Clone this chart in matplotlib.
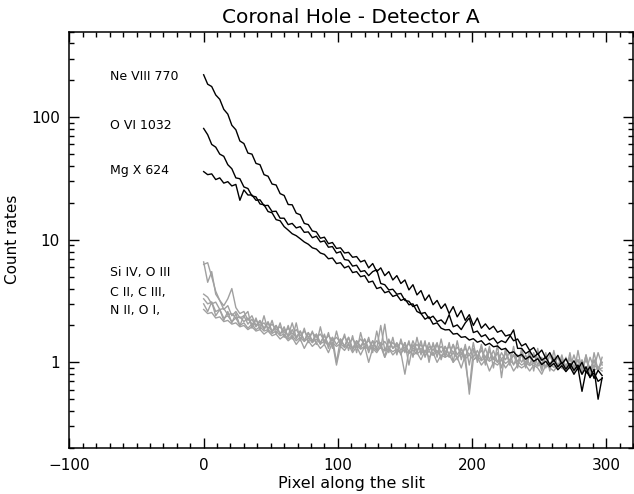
import numpy as np
import matplotlib
matplotlib.use("Agg")
import matplotlib.pyplot as plt
from matplotlib.ticker import MultipleLocator, LogLocator, NullFormatter, FixedLocator, FixedFormatter

# pixel positions along the slit (every 3rd pixel)
pix = np.arange(0, 300, 3)

# hot lines (black)
ne8 = [222, 186, 178, 152, 140, 116, 106, 86, 79, 64,
       61, 51, 50, 42, 41, 34, 33, 28.5, 28, 23.8,
       23, 19.4, 19.3, 16.5, 16, 13.6, 13.3, 11.8, 11.6, 10.3,
       10.5, 9.3, 9.5, 8.5, 8.6, 7.8, 7.9, 7.2, 7.3, 6.6,
       6.8, 5.9, 6.4, 5.5, 5.9, 5.1, 5.5, 4.7, 5.1, 4.4,
       4.7, 3.9, 4.3, 3.55, 3.85, 3.2, 3.55, 2.95, 3.2, 2.75,
       3.0, 2.5, 2.85, 2.35, 2.65, 2.2, 2.45, 2.0, 2.3, 1.9,
       2.06, 1.86, 1.97, 1.76, 1.82, 1.64, 1.68, 1.5, 1.55, 1.36,
       1.42, 1.25, 1.32, 1.16, 1.26, 1.08, 1.2, 1.02, 1.14, 0.97,
       1.07, 0.92, 1.03, 0.88, 1.0, 0.82, 0.92, 0.74, 0.86, 0.78]
o6 = [81, 72, 60, 57, 50, 48, 41, 38, 32, 31.5,
      27, 26.2, 22.8, 22.4, 19.6, 19.3, 17, 16.6, 14.6, 14.3,
      12.8, 12.0, 11.2, 10.8, 10.2, 9.6, 9.2, 8.6, 8.4, 7.8,
      7.6, 7.0, 7.1, 6.4, 6.5, 5.9, 6.1, 5.4, 5.5, 5.0,
      5.1, 4.5, 4.6, 4.0, 4.1, 3.7, 3.8, 3.45, 3.55, 3.2,
      3.3, 2.95, 3.0, 2.6, 2.5, 2.25, 2.35, 2.05, 2.1, 1.9,
      1.84, 1.85, 1.7, 1.72, 1.6, 1.62, 1.52, 1.56, 1.46, 1.5,
      1.38, 1.43, 1.34, 1.36, 1.27, 1.3, 1.19, 1.22, 1.12, 1.16,
      1.06, 1.12, 1.02, 1.07, 0.96, 1.02, 0.92, 0.98, 0.87, 0.94,
      0.84, 0.92, 0.8, 0.9, 0.58, 0.85, 0.76, 0.82, 0.7, 0.74]
mg10 = [36, 34, 34.5, 31, 32, 29, 29.8, 27.5, 28.3, 21,
        25.5, 23.2, 23.2, 21, 21.2, 19, 19.1, 17, 17.1, 15,
        15, 13.3, 13.6, 12.5, 12.8, 11.5, 11.6, 10.4, 10.7, 9.6,
        9.8, 8.7, 8.8, 7.8, 8.0, 6.9, 6.8, 6.1, 6.2, 5.5,
        5.6, 5.1, 5.5, 5.7, 4.4, 4.3, 3.9, 3.95, 3.6, 3.65,
        3.2, 3.15, 2.85, 2.95, 2.5, 2.55, 2.28, 2.38, 2.15, 2.22,
        2.05, 2.45, 1.95, 2.02, 1.85, 2.1, 2.3, 1.75, 1.8, 1.62,
        1.68, 1.52, 1.58, 1.43, 1.5, 1.45, 1.62, 1.84, 1.3, 1.3,
        1.18, 1.24, 1.1, 1.18, 1.04, 1.1, 0.96, 1.05, 0.92, 1.0,
        0.88, 0.98, 0.86, 0.95, 0.8, 0.92, 0.75, 0.88, 0.5, 0.75]

# cool lines (grey)
cool1 = [6.6, 4.5, 5.5, 3.6, 3.2, 2.9, 3.3, 4.0, 2.8, 2.5,
         2.6, 2.2, 2.4, 2.0, 2.2, 1.9, 2.15, 1.8, 2.0, 1.7,
         1.95, 1.6, 1.85, 1.55, 1.8, 1.5, 1.75, 1.45, 1.7, 1.4,
         1.7, 1.3, 1.6, 1.0, 1.55, 1.35, 1.6, 1.25, 1.5, 1.3,
         1.55, 1.2, 1.5, 1.25, 1.45, 1.1, 1.55, 1.3, 1.4, 1.15,
         1.45, 0.95, 1.4, 1.2, 1.5, 1.1, 1.35, 1.25, 1.45, 1.05,
         1.35, 1.15, 1.4, 1.05, 1.3, 1.0, 0.6, 1.25, 1.1, 1.35,
         0.95, 1.25, 1.05, 1.2, 0.9, 1.25, 1.0, 1.15, 0.95, 1.2,
         0.9, 1.15, 1.0, 1.1, 0.85, 1.15, 0.95, 1.1, 0.9, 1.05,
         0.85, 1.1, 0.9, 1.05, 0.8, 1.15, 0.85, 1.05, 0.9, 1.0]
cool2 = [6.3, 6.5, 5.0, 3.8, 3.2, 2.7, 2.9, 2.4, 2.6, 2.3,
         2.4, 2.05, 2.25, 1.95, 2.15, 1.85, 2.1, 1.75, 2.0, 1.7,
         1.85, 1.65, 2.1, 1.6, 1.8, 1.5, 1.75, 1.5, 1.7, 1.45,
         1.65, 1.4, 1.6, 1.4, 1.55, 1.35, 1.6, 1.3, 1.5, 1.35,
         1.55, 1.3, 1.5, 1.3, 2.0, 1.25, 1.5, 1.3, 1.45, 1.25,
         1.45, 1.2, 1.5, 1.25, 1.4, 1.2, 1.45, 1.15, 1.4, 1.2,
         1.35, 1.15, 1.4, 1.15, 1.3, 1.1, 1.35, 1.1, 1.25, 1.05,
         1.3, 1.05, 1.25, 1.0, 1.2, 1.05, 1.2, 0.95, 1.15, 1.0,
         1.15, 0.95, 1.2, 0.95, 1.1, 0.9, 1.15, 0.95, 1.1, 0.9,
         1.1, 0.9, 1.15, 0.9, 1.05, 0.85, 1.1, 0.9, 1.2, 0.95]
cool3 = [3.6, 3.4, 3.0, 3.1, 2.7, 2.75, 2.45, 2.5, 2.3, 2.35,
         2.15, 2.3, 2.05, 2.2, 2.0, 2.1, 1.9, 2.05, 1.85, 1.95,
         1.75, 1.9, 1.7, 1.85, 1.65, 1.8, 1.6, 1.75, 1.6, 1.7,
         1.5, 1.65, 1.5, 1.6, 1.45, 1.62, 1.42, 1.55, 1.4, 1.55,
         1.4, 1.5, 1.35, 1.5, 1.35, 1.48, 1.32, 1.45, 1.33, 1.45,
         1.3, 1.42, 1.28, 1.4, 1.27, 1.4, 1.25, 1.38, 1.22, 1.35,
         1.22, 1.35, 1.2, 1.33, 1.18, 1.3, 1.15, 1.3, 1.12, 1.25,
         1.1, 1.25, 1.08, 1.2, 1.06, 1.18, 1.04, 1.15, 1.02, 1.14,
         1.0, 1.12, 0.99, 1.1, 0.97, 1.1, 0.96, 1.08, 0.95, 1.07,
         0.94, 1.06, 0.92, 1.05, 0.91, 1.04, 0.9, 1.02, 0.88, 1.0]
cool4 = [3.3, 3.0, 3.1, 2.6, 2.7, 2.3, 2.4, 2.15, 2.3, 2.0,
         2.1, 1.9, 2.05, 1.85, 1.95, 1.8, 1.85, 1.72, 1.8, 1.65,
         1.7, 1.55, 1.65, 1.5, 1.6, 1.48, 1.58, 1.45, 1.55, 1.42,
         1.48, 1.38, 1.45, 1.35, 1.42, 1.32, 1.4, 1.3, 1.38, 1.28,
         1.35, 1.27, 1.33, 1.25, 1.32, 1.24, 1.3, 1.22, 1.29, 1.2,
         1.27, 1.18, 1.26, 1.17, 1.25, 1.15, 1.23, 1.14, 1.22, 1.12,
         1.2, 1.1, 1.19, 1.09, 1.17, 1.07, 1.15, 1.05, 1.13, 1.03,
         1.1, 1.02, 1.08, 1.0, 1.06, 0.98, 1.04, 0.97, 1.02, 0.95,
         1.0, 0.94, 0.99, 0.93, 0.98, 0.92, 0.97, 0.91, 0.96, 0.9,
         0.94, 0.89, 0.93, 0.88, 0.92, 0.87, 0.91, 0.86, 0.9, 0.85]
cool5 = [3.0, 2.6, 3.1, 2.4, 2.7, 2.2, 2.6, 2.1, 2.5, 2.0,
         2.4, 2.6, 1.9, 2.3, 1.85, 2.4, 1.8, 2.2, 1.7, 2.1,
         1.6, 2.0, 1.55, 2.1, 1.5, 1.9, 1.45, 1.8, 1.4, 1.95,
         1.4, 1.75, 1.3, 1.8, 1.35, 1.7, 1.25, 1.65, 1.2, 1.75,
         1.3, 1.6, 1.2, 1.8, 1.3, 2.05, 1.2, 1.6, 1.15, 1.55,
         1.2, 1.5, 1.1, 1.6, 1.15, 1.5, 1.0, 1.45, 1.1, 1.55,
         1.1, 1.45, 1.0, 1.5, 1.05, 1.4, 0.95, 1.45, 1.0, 1.4,
         1.0, 1.35, 0.9, 1.4, 0.75, 1.3, 0.95, 1.35, 0.9, 1.3,
         0.95, 1.25, 0.85, 1.3, 0.9, 1.2, 0.85, 1.25, 0.9, 1.15,
         0.85, 1.2, 0.8, 1.25, 0.85, 1.15, 0.75, 1.2, 0.85, 1.1]
cool6 = [2.7, 2.5, 2.55, 2.3, 2.35, 2.15, 2.2, 2.05, 2.1, 1.95,
         2.0, 1.85, 1.95, 1.8, 1.85, 1.7, 1.8, 1.65, 1.7, 1.55,
         1.65, 1.5, 1.6, 1.4, 1.55, 1.3, 1.5, 1.35, 1.45, 1.3,
         1.4, 1.2, 1.45, 0.95, 1.35, 1.25, 1.4, 1.2, 1.35, 1.15,
         1.35, 1.0, 1.3, 1.2, 1.35, 1.1, 1.3, 1.15, 1.25, 1.2,
         0.8, 1.25, 1.15, 1.2, 1.05, 1.25, 1.1, 1.2, 1.0, 1.15,
         1.1, 1.15, 1.0, 1.1, 0.9, 1.15, 0.55, 1.05, 1.1, 0.95,
         1.05, 0.85, 1.0, 0.95, 1.05, 0.9, 1.0, 0.85, 0.95, 0.9,
         0.95, 0.85, 0.95, 0.9, 0.8, 0.95, 0.9, 0.85, 0.95, 0.9,
         0.85, 0.95, 0.88, 0.9, 0.8, 0.9, 0.85, 0.95, 0.88, 0.9]

hot_labels = ["Ne VIII 770", "O VI 1032", "Mg X 624"]
hot_label_y = [214, 85, 37]
cool_labels = ["Si IV, O III", "C II, C III,", "N II, O I,"]
cool_label_y = [5.4, 3.7, 2.63]

fig = plt.figure(figsize=(6.34, 4.94), dpi=100)
ax = fig.add_axes([0.1096, 0.0931, 0.8888, 0.843])

for s in [cool1, cool2, cool3, cool4, cool5, cool6]:
    ax.plot(pix, s, color='#a0a0a0', lw=1.0)
for s in [ne8, o6, mg10]:
    ax.plot(pix, s, color='black', lw=1.0)

for t, y in zip(hot_labels + cool_labels, hot_label_y + cool_label_y):
    ax.text(-70, y, t, fontsize=9, va='center', ha='left')

ax.set_yscale('log')
ax.set_xlim(-100, 320)
ax.set_ylim(0.2, 500)
ax.xaxis.set_major_locator(MultipleLocator(100))
ax.xaxis.set_minor_locator(MultipleLocator(10))
ax.yaxis.set_major_locator(FixedLocator([1, 10, 100]))
ax.yaxis.set_major_formatter(FixedFormatter(['1', '10', '100']))
ax.yaxis.set_minor_locator(LogLocator(base=10, subs=np.arange(2, 10)))
ax.yaxis.set_minor_formatter(NullFormatter())
ax.tick_params(which='both', direction='in', top=True, right=True, width=1)
ax.tick_params(which='major', length=7, labelsize=11, pad=7)
ax.tick_params(which='minor', length=3.5)
for sp in ax.spines.values():
    sp.set_linewidth(1.1)

ax.set_title('Coronal Hole - Detector A', fontsize=14.5, pad=6)
ax.set_xlabel('Pixel along the slit', fontsize=11.5, labelpad=2)
ax.set_ylabel('Count rates', fontsize=11, labelpad=8)

fig.savefig('out.png', dpi=100)
